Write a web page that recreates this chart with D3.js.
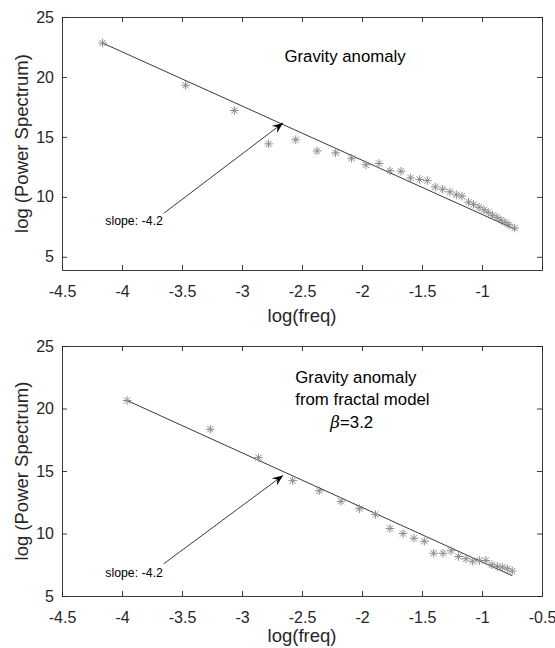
<!DOCTYPE html>
<html>
<head>
<meta charset="utf-8">
<script src="https://cdn.jsdelivr.net/npm/d3@7"></script>
<style>
  body { margin: 0; background: #fff; }
  svg { display: block; font-family: "Liberation Sans", Arial, sans-serif; }
</style>
</head>
<body>
<svg id="chart" width="555" height="648"></svg>
<script>
// x / y tick values shared by both panels
const xTicksTop = [-4.5, -4, -3.5, -3, -2.5, -2, -1.5, -1, -0.5];
const xLabelsTop = ["-4.5", "-4", "-3.5", "-3", "-2.5", "-2", "-1.5", "-1", ""];
const xTicksBot = [-4.5, -4, -3.5, -3, -2.5, -2, -1.5, -1, -0.5];
const xLabelsBot = ["-4.5", "-4", "-3.5", "-3", "-2.5", "-2", "-1.5", "-1", "-0.5"];
const yTicks = [5, 10, 15, 20, 25];

// panel 1: gravity anomaly (observed)
const topFreq = [-4.162, -3.470, -3.064, -2.778, -2.552, -2.374, -2.220, -2.087, -1.967, -1.858,
                 -1.767, -1.675, -1.595, -1.520, -1.456, -1.389, -1.328, -1.267, -1.214, -1.167,
                 -1.112, -1.070, -1.025, -0.983, -0.948, -0.912, -0.875, -0.842, -0.808, -0.775, -0.728];
const topPower = [22.83, 19.31, 17.20, 14.42, 14.77, 13.83, 13.67, 13.22, 12.67, 12.78,
                  12.17, 12.14, 11.58, 11.45, 11.36, 10.83, 10.64, 10.42, 10.17, 10.06,
                  9.56, 9.37, 9.14, 8.92, 8.70, 8.47, 8.28, 8.06, 7.87, 7.67, 7.40];
const topFit = [[-4.162, 22.83], [-0.722, 7.28]];
const topArrow = [[-3.653, 8.62], [-2.658, 16.17]];
const topSlopeText = { x: -4.139, y: 7.64, text: "slope: -4.2" };
const topTitle = [{ x: -2.646, y: 21.22, text: "Gravity anomaly" }];

// panel 2: gravity anomaly from fractal model
const botFreq = [-3.958, -3.264, -2.862, -2.578, -2.356, -2.175, -2.022, -1.887, -1.767, -1.658,
                 -1.567, -1.481, -1.403, -1.325, -1.258, -1.195, -1.133, -1.078, -1.020, -0.968,
                 -0.918, -0.872, -0.831, -0.789, -0.748];
const botPower = [20.64, 18.34, 16.07, 14.23, 13.42, 12.57, 11.98, 11.52, 10.40, 10.00,
                  9.62, 9.38, 8.42, 8.42, 8.62, 8.16, 7.98, 7.78, 7.84, 7.84,
                  7.50, 7.37, 7.31, 7.18, 6.99];
const botFit = [[-3.958, 20.64], [-0.750, 6.63]];
const botArrow = [[-3.653, 7.57], [-2.658, 14.65]];
const botSlopeText = { x: -4.139, y: 6.55, text: "slope: -4.2" };
const botTitle = [
  { x: -2.556, y: 22.03, text: "Gravity anomaly" },
  { x: -2.556, y: 20.26, text: "from fractal model" },
  { x: -2.264, y: 18.42, text: "=3.2", greek: "β" }
];

const svg = d3.select("#chart");
const axisColor = "#262626";

function starPath(r) {
  const d = r * 0.72;
  return `M${-r},0L${r},0M0,${-r}L0,${r}M${-d},${-d}L${d},${d}M${-d},${d}L${d},${-d}`;
}

function drawPanel(p) {
  const x = d3.scaleLinear().domain([-4.5, -0.5]).range([62, 542]);
  const y = d3.scaleLinear().domain(p.yDomain).range([p.bottom, p.top]);
  const g = svg.append("g");

  // inward ticks on all four sides (matlab box on)
  const axB = d3.axisBottom(x).tickValues(p.xTicks).tickSizeInner(-5).tickSizeOuter(0)
    .tickPadding(16).tickFormat((d, i) => p.xLabels[i]);
  const axT = d3.axisTop(x).tickValues(p.xTicks).tickSizeInner(-5).tickSizeOuter(0).tickFormat("");
  const axL = d3.axisLeft(y).tickValues(yTicks).tickSizeInner(-5).tickSizeOuter(0)
    .tickPadding(8).tickFormat(d3.format("d"));
  const axR = d3.axisRight(y).tickValues(yTicks).tickSizeInner(-5).tickSizeOuter(0).tickFormat("");

  g.append("g").attr("transform", `translate(0,${p.bottom})`).call(axB);
  g.append("g").attr("transform", `translate(0,${p.top})`).call(axT);
  g.append("g").attr("transform", `translate(62,0)`).call(axL);
  g.append("g").attr("transform", `translate(542,0)`).call(axR);
  g.selectAll(".domain").attr("stroke", axisColor).attr("stroke-width", 0.9);
  g.selectAll(".tick line").attr("stroke", axisColor).attr("stroke-width", 0.9);
  g.selectAll(".tick text").attr("fill", axisColor).attr("font-size", 16)
    .attr("font-family", "Liberation Sans, Arial, sans-serif");

  // fit line
  g.append("path")
    .datum(p.fit)
    .attr("d", d3.line().x(d => x(d[0])).y(d => y(d[1])))
    .attr("fill", "none").attr("stroke", "#3a3a3a").attr("stroke-width", 1);

  // data stars
  g.append("g").selectAll("path")
    .data(p.freq.map((f, i) => [f, p.power[i]]))
    .join("path")
    .attr("transform", d => `translate(${x(d[0])},${y(d[1])})`)
    .attr("d", starPath(4.3))
    .attr("stroke", "#8c8c8c").attr("stroke-width", 1).attr("fill", "none");

  // arrow
  const [a0, a1] = p.arrow;
  const x0 = x(a0[0]), y0 = y(a0[1]), x1 = x(a1[0]), y1 = y(a1[1]);
  const ang = Math.atan2(y1 - y0, x1 - x0) * 180 / Math.PI;
  g.append("line")
    .attr("x1", x0).attr("y1", y0).attr("x2", x1).attr("y2", y1)
    .attr("stroke", "#3a3a3a").attr("stroke-width", 1);
  g.append("path")
    .attr("transform", `translate(${x1},${y1}) rotate(${ang})`)
    .attr("d", "M0,0L-11,-4.5L-7,0L-11,4.5Z")
    .attr("fill", "#000");

  g.append("text")
    .attr("x", x(p.slope.x)).attr("y", y(p.slope.y))
    .attr("font-size", 12.3).attr("fill", "#000")
    .text(p.slope.text);

  // annotation block
  p.title.forEach(t => {
    const txt = g.append("text")
      .attr("x", x(t.x)).attr("y", y(t.y))
      .attr("font-size", 16.8).attr("fill", "#000");
    if (t.greek) {
      txt.append("tspan").attr("font-style", "italic")
        .attr("font-family", "DejaVu Serif, serif").text(t.greek);
    }
    txt.append("tspan").text(t.text);
  });

  // axis labels
  g.append("text")
    .attr("x", 302).attr("y", p.bottom + p.xLabelGap)
    .attr("text-anchor", "middle").attr("font-size", 18.5).attr("fill", axisColor)
    .text("log(freq)");
  g.append("text")
    .attr("transform", `translate(28,${(p.top + p.bottom) / 2}) rotate(-90)`)
    .attr("text-anchor", "middle").attr("font-size", 18.5).attr("fill", axisColor)
    .text("log (Power Spectrum)");
}

drawPanel({
  top: 17, bottom: 270, yDomain: [3.9, 25], xLabelGap: 52,
  xTicks: xTicksTop, xLabels: xLabelsTop,
  freq: topFreq, power: topPower, fit: topFit,
  arrow: topArrow, slope: topSlopeText, title: topTitle
});

drawPanel({
  top: 346, bottom: 596, yDomain: [5, 25], xLabelGap: 46,
  xTicks: xTicksBot, xLabels: xLabelsBot,
  freq: botFreq, power: botPower, fit: botFit,
  arrow: botArrow, slope: botSlopeText, title: botTitle
});
</script>
</body>
</html>
